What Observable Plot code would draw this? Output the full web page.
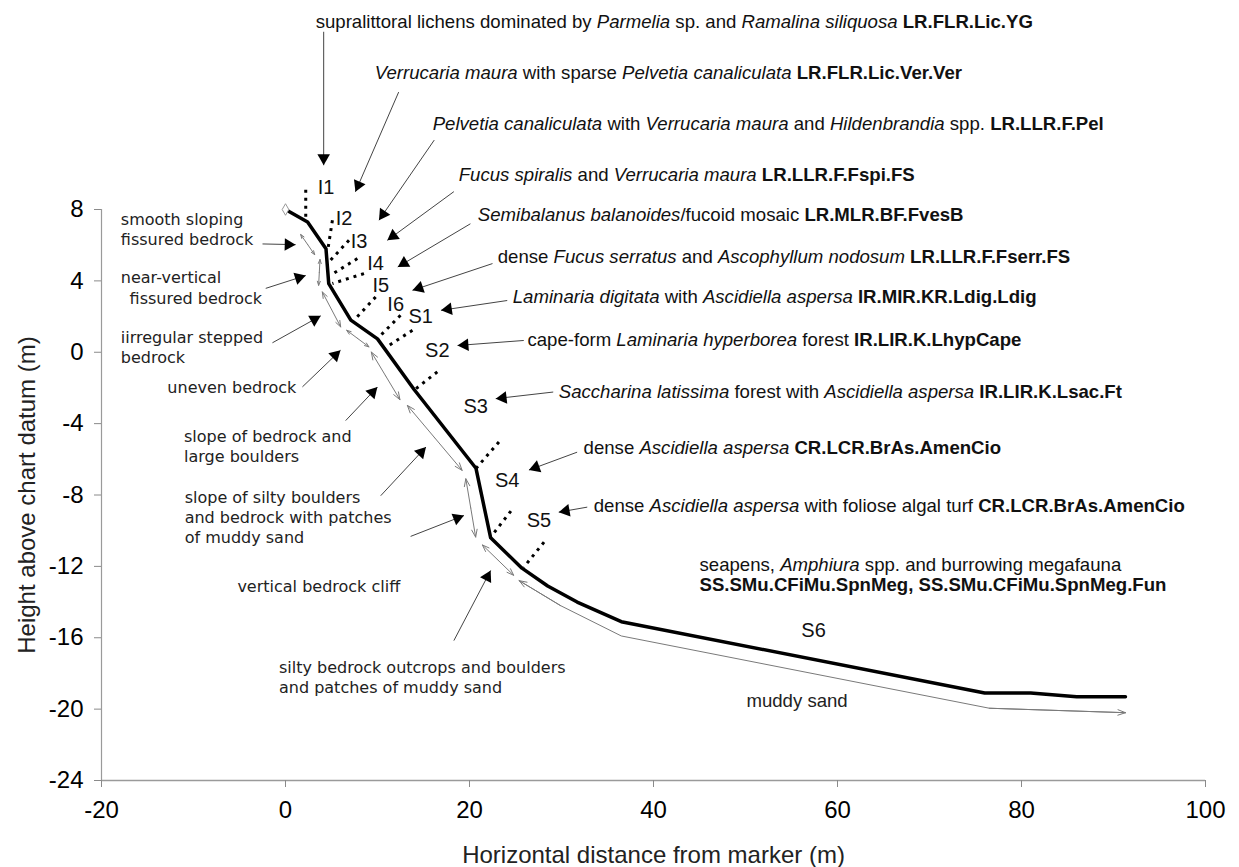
<!DOCTYPE html>
<html><head><meta charset="utf-8">
<script src="https://cdn.jsdelivr.net/npm/d3@7"></script>
<script src="https://cdn.jsdelivr.net/npm/@observablehq/plot@0.6"></script>
<style>body{margin:0;background:#fff} #chart svg{display:block}</style>
</head><body><div id="chart"></div>
<script>
// ---------- data ----------
const xTicks = [-20, 0, 20, 40, 60, 80, 100];
const yTicks = [-24, -20, -16, -12, -8, -4, 0, 4, 8];

// seabed profile (thick line)
const profileX = [0, 2.4, 4.4, 4.7, 7.1, 10, 14, 20.7, 22.3, 25.7, 28.5, 31.7, 36.5, 76, 81, 86, 91.3];
const profileY = [8, 7.3, 5.8, 3.85, 1.8, 0.75, -2.1, -6.5, -10.4, -12.1, -13.1, -14.0, -15.1, -19.1, -19.1, -19.3, -19.3];

// habitat extent double arrows (thin grey), [x1,y1,x2,y2]
const habitatArrows = [
  [1.65, 6.6, 3.17, 5.47],
  [3.75, 5.2, 3.6, 3.75],
  [4.0, 3.38, 6.0, 1.42],
  [6.65, 1.23, 9.07, 0.3],
  [9.33, 0.01, 12.44, -2.66],
  [13.25, -2.98, 19.2, -6.62],
  [19.6, -7.09, 20.67, -10.36],
  [21.4, -10.8, 24.8, -12.5]
];
const muddyX = [25.4, 29.9, 36.5, 76.5, 91.3];
const muddyY = [-12.8, -14.2, -15.9, -19.95, -20.2];

// biotope boundaries (dotted), [x1,y1,x2,y2]
const boundaries = [
  [2.2, 9.1, 2.2, 7.3],
  [5.1, 7.4, 4.62, 5.81],
  [6.9, 6.28, 4.9, 5.16],
  [7.81, 5.25, 4.91, 4.32],
  [8.53, 4.41, 5.1, 3.85],
  [9.8, 3.1, 7.44, 1.79],
  [12.5, 2.07, 10.35, 0.95],
  [13.8, 1.23, 10.7, 0.2],
  [16.5, -1.1, 13.96, -2.13],
  [23.2, -5.03, 20.67, -6.53],
  [24.5, -8.9, 22.3, -10.36],
  [28.1, -10.64, 25.9, -12.05]
];

// zone labels
const zoneNames = ["I1", "I2", "I3", "I4", "I5", "I6", "S1", "S2", "S3", "S4", "S5", "S6"];
const zoneX = [4.4, 6.36, 7.99, 9.8, 10.35, 11.98, 14.69, 16.5, 20.67, 24.1, 27.55, 57.4];
const zoneY = [9.2, 7.5, 6.18, 4.97, 3.75, 2.68, 1.98, 0.11, -3.07, -7.18, -9.43, -15.6];

// substrate labels (left)
const substrateLines = [
  "smooth sloping", "fissured bedrock", "near-vertical", " fissured bedrock",
  "iirregular stepped", "bedrock", "uneven bedrock", "slope of bedrock and", "large boulders",
  "slope of silty boulders", "and bedrock with patches", "of muddy sand",
  "vertical bedrock cliff", "silty bedrock outcrops and boulders", "and patches of muddy sand"
];
const substrateX = [-17.9, -17.9, -17.9, -17.5, -17.9, -17.9, -12.84, -11.03, -11.03, -10.96, -10.96, -10.96, -5.23, -0.71, -0.71];
const substrateY = [7.42, 6.29, 4.15, 2.99, 0.8, -0.33, -2.02, -4.75, -5.88, -8.14, -9.26, -10.42, -13.16, -17.7, -18.83];
const sandLabel = ["muddy sand"];
const sandX = [50.1];
const sandY = [-19.52];
const substrateArrows = [
  [-2.5, 6.07, 1.1, 6.03],
  [-2.15, 3.58, 2.2, 4.3],
  [-1.42, 0.53, 3.83, 2.04],
  [1.84, -1.94, 5.98, 0.11],
  [6.54, -3.83, 9.99, -1.95],
  [10.35, -8.04, 15.27, -5.31],
  [13.6, -10.32, 19.4, -9.15],
  [18.3, -16.16, 22.3, -12.23]
];

// biotope labels (right): segments [text, style] n=normal i=italic b=bold
const biotopeLabels = [
  [["supralittoral lichens dominated by ", "n"], ["Parmelia", "i"], [" sp. and ", "n"], ["Ramalina siliquosa", "i"], [" ", "n"], ["LR.FLR.Lic.YG", "b"]],
  [["Verrucaria maura", "i"], [" with sparse ", "n"], ["Pelvetia canaliculata", "i"], [" ", "n"], ["LR.FLR.Lic.Ver.Ver", "b"]],
  [["Pelvetia canaliculata", "i"], [" with ", "n"], ["Verrucaria maura", "i"], [" and ", "n"], ["Hildenbrandia", "i"], [" spp. ", "n"], ["LR.LLR.F.Pel", "b"]],
  [["Fucus spiralis", "i"], [" and ", "n"], ["Verrucaria maura", "i"], [" ", "n"], ["LR.LLR.F.Fspi.FS", "b"]],
  [["Semibalanus balanoides", "i"], ["/fucoid mosaic ", "n"], ["LR.MLR.BF.FvesB", "b"]],
  [["dense ", "n"], ["Fucus serratus", "i"], [" and ", "n"], ["Ascophyllum nodosum", "i"], [" ", "n"], ["LR.LLR.F.Fserr.FS", "b"]],
  [["Laminaria digitata", "i"], [" with ", "n"], ["Ascidiella aspersa", "i"], [" ", "n"], ["IR.MIR.KR.Ldig.Ldig", "b"]],
  [["cape-form ", "n"], ["Laminaria hyperborea", "i"], [" forest ", "n"], ["IR.LIR.K.LhypCape", "b"]],
  [["Saccharina latissima", "i"], [" forest with ", "n"], ["Ascidiella aspersa", "i"], [" ", "n"], ["IR.LIR.K.Lsac.Ft", "b"]],
  [["dense ", "n"], ["Ascidiella aspersa", "i"], [" ", "n"], ["CR.LCR.BrAs.AmenCio", "b"]],
  [["dense ", "n"], ["Ascidiella aspersa", "i"], [" with foliose algal turf ", "n"], ["CR.LCR.BrAs.AmenCio", "b"]],
  [["seapens, ", "n"], ["Amphiura", "i"], [" spp. and burrowing megafauna", "n"]],
  [["SS.SMu.CFiMu.SpnMeg, SS.SMu.CFiMu.SpnMeg.Fun", "b"]]
];
const biotopeX = [3.28, 9.7, 16.0, 18.83, 20.9, 23.07, 24.7, 26.3, 29.7, 32.4, 33.5, 45.0, 45.0];
const biotopeY = [18.5, 15.64, 12.78, 9.92, 7.68, 5.32, 3.08, 0.67, -2.25, -5.39, -8.6, -11.95, -13.07];
const biotopeArrows = [
  [4.15, 17.96, 4.15, 10.48],
  [12.3, 14.58, 7.6, 8.99],
  [16.17, 11.89, 10.16, 7.4],
  [18.3, 9.0, 11.07, 6.27],
  [20.1, 7.2, 12.2, 4.78],
  [22.5, 4.97, 13.8, 3.47],
  [24.1, 2.9, 16.9, 2.35],
  [25.9, 0.66, 18.7, 0.38],
  [29.1, -2.23, 22.85, -2.6],
  [31.7, -5.6, 26.46, -6.6],
  [32.8, -8.68, 29.7, -8.96]
];

// ---------- layout ----------
const W = 1239, H = 867, ML = 101, MR = 34, MT = 209, MB = 87;
const XD = [-20, 100], YD = [-24, 8];
const kx = (W - ML - MR) / (XD[1] - XD[0]);
const ky = (H - MT - MB) / (YD[1] - YD[0]);
const SANS = '"Liberation Sans", Arial, Helvetica, sans-serif';
const LEFTF = '"DejaVu Sans", Verdana, sans-serif';
const NSIZE = 18.6, BSIZE = 18.6;
const HEAD_R = 6;

// ---------- derived tables ----------
const profile = profileX.map((x, i) => ({x, y: profileY[i]}));
const muddy = muddyX.map((x, i) => ({x, y: muddyY[i]}));
const habRows = [];
habitatArrows.forEach(([x1, y1, x2, y2]) => {
  const mx = (x1 + x2) / 2, my = (y1 + y2) / 2;
  habRows.push({x1: mx, y1: my, x2: x2, y2: y2});
  habRows.push({x1: mx, y1: my, x2: x1, y2: y1});
});
habRows.push({x1: muddyX[1], y1: muddyY[1], x2: muddyX[0], y2: muddyY[0]});
habRows.push({x1: muddyX[3], y1: muddyY[3], x2: muddyX[4], y2: muddyY[4]});

const toRows = a => a.map(([x1, y1, x2, y2]) => ({x1, y1, x2, y2}));
const headBack = Math.sqrt(Math.PI * HEAD_R * HEAD_R) * 0.6824; // tip distance of triangle2
function heads(a, back) {
  return a.map(([x1, y1, x2, y2]) => {
    const dx = (x2 - x1) * kx, dy = -(y2 - y1) * ky;
    const L = Math.hypot(dx, dy), ux = dx / L, uy = dy / L;
    return {x: x2 - ux * back / kx, y: y2 + uy * back / ky, rotate: Math.atan2(ux, -uy) * 180 / Math.PI};
  });
}
const pointerArrows = substrateArrows.concat(biotopeArrows);

const zones = zoneNames.map((t, i) => ({t, x: zoneX[i], y: zoneY[i]}));
const substrates = substrateLines.map((t, i) => ({t, x: substrateX[i], y: substrateY[i]}));
const sand = sandLabel.map((t, i) => ({t, x: sandX[i], y: sandY[i]}));

const ctx = document.createElement("canvas").getContext("2d");
function fontFor(s) {
  if (s === "b") return "bold " + BSIZE + "px " + SANS;
  return (s === "i" ? "italic " : "") + NSIZE + "px " + SANS;
}
function measure(t, s) { ctx.font = fontFor(s); return ctx.measureText(t).width; }
const segRows = [];
biotopeLabels.forEach((segs, i) => {
  let off = 0;
  segs.forEach(([t, s]) => {
    const core = t.trim();
    if (!core.length) { off += measure(" ", s) * t.length; return; }
    const lead = t.length - t.trimStart().length;
    const trail = t.length - t.trimEnd().length;
    off += measure(" ", s) * lead;
    segRows.push({t: core, s, x: biotopeX[i] + off / kx, y: biotopeY[i]});
    off += measure(core, s) + measure(" ", s) * trail;
  });
});

// ---------- plot ----------
const chart = Plot.plot({
  width: W, height: H,
  marginLeft: ML, marginRight: MR, marginTop: MT, marginBottom: MB,
  x: {domain: XD}, y: {domain: YD},
  style: {fontFamily: SANS, background: "white", color: "black"},
  marks: [
    Plot.ruleX([XD[0]], {y1: YD[0], y2: YD[1], stroke: "#9a9a9a", strokeWidth: 1.2}),
    Plot.ruleY([YD[0]], {x1: XD[0], x2: XD[1], stroke: "#9a9a9a", strokeWidth: 1.5}),
    Plot.axisX({ticks: xTicks, tickFormat: d => String(d), tickSize: 7, tickPadding: 13, fontSize: 24, stroke: "#8a8a8a", fill: "black", label: null}),
    Plot.axisY({ticks: yTicks, tickFormat: d => String(d), tickSize: 7, tickPadding: 11, fontSize: 24, stroke: "#8a8a8a", fill: "black", label: null}),
    Plot.text(["Horizontal distance from marker (m)"], {frameAnchor: "bottom", dy: 75, fontSize: 24, textAnchor: "middle", lineAnchor: "middle", fill: "#222"}),
    Plot.text(["Height above chart datum (m)"], {frameAnchor: "left", rotate: -90, dx: -74, fontSize: 24, textAnchor: "middle", lineAnchor: "middle", fill: "#222"}),

    // habitat extents
    Plot.line(muddy, {x: "x", y: "y", stroke: "#7a7a7a", strokeWidth: 1}),
    Plot.arrow(habRows, {x1: "x1", y1: "y1", x2: "x2", y2: "y2", stroke: "#7a7a7a", strokeWidth: 1, headLength: 12, headAngle: 40}),

    // boundaries
    Plot.link(toRows(boundaries), {x1: "x1", y1: "y1", x2: "x2", y2: "y2", stroke: "black", strokeWidth: 3, strokeDasharray: "3,5"}),

    // profile
    Plot.line(profile, {x: "x", y: "y", stroke: "black", strokeWidth: 3.5, strokeLinejoin: "round"}),
    Plot.dot(profile.slice(0, 1), {x: "x", y: "y", symbol: "diamond", r: 3.5, stroke: "#999", fill: "white", strokeWidth: 1}),

    // pointer arrows
    Plot.link(toRows(pointerArrows), {x1: "x1", y1: "y1", x2: "x2", y2: "y2", stroke: "#444", strokeWidth: 1}),
    Plot.dot(heads(pointerArrows, headBack), {x: "x", y: "y", rotate: "rotate", symbol: "triangle2", r: HEAD_R, fill: "black", stroke: "none"}),

    // zone labels
    Plot.text(zones, {x: "x", y: "y", text: "t", fontSize: 20, lineAnchor: "middle", textAnchor: "middle", fill: "#111"}),

    // substrate labels
    Plot.text(substrates, {x: "x", y: "y", text: "t", fontFamily: LEFTF, fontSize: 16, textAnchor: "start", lineAnchor: "middle", fill: "#222"}),
    Plot.text(sand, {x: "x", y: "y", text: "t", fontSize: 18.6, textAnchor: "start", lineAnchor: "middle", fill: "#222"}),

    // biotope labels
    Plot.text(segRows.filter(d => d.s === "n"), {x: "x", y: "y", text: "t", fontSize: NSIZE, textAnchor: "start", lineAnchor: "middle", fill: "#111"}),
    Plot.text(segRows.filter(d => d.s === "i"), {x: "x", y: "y", text: "t", fontSize: NSIZE, fontStyle: "italic", textAnchor: "start", lineAnchor: "middle", fill: "#111"}),
    Plot.text(segRows.filter(d => d.s === "b"), {x: "x", y: "y", text: "t", fontSize: BSIZE, fontWeight: "bold", textAnchor: "start", lineAnchor: "middle", fill: "#111"})
  ]
});
document.getElementById("chart").appendChild(chart);
</script>
</body></html>
